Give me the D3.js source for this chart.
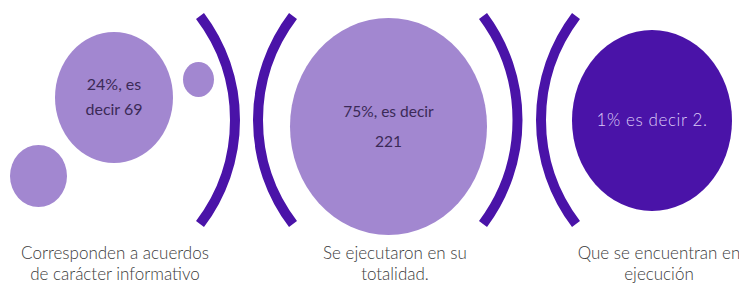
<!DOCTYPE html>
<html>
<head>
<meta charset="utf-8">
<script src="https://cdn.jsdelivr.net/npm/d3@7"></script>
<style>
  html, body { margin: 0; padding: 0; background: #ffffff; }
  svg { display: block; }
</style>
</head>
<body>
<div id="chart"></div>
<script>
// ---- data ----
const categories = ["informativo", "totalidad", "ejecucion"];
const labelLines = [
  ["Corresponden a acuerdos", "de carácter informativo"],
  ["Se ejecutaron en su", "totalidad."],
  ["Que se encuentran en", "ejecución"]
];
const percents = [24, 75, 1];
const counts = [69, 221, 2];
const valueLines = [
  [`${percents[0]}%, es`, `decir ${counts[0]}`],
  [`${percents[1]}%, es decir`, `${counts[1]}`],
  [`${percents[2]}% es decir ${counts[2]}.`]
];

// ---- layout ----
const W = 739, H = 293;
const light = "#a287d0", dark = "#4a13a8";
const svg = d3.select("#chart").append("svg").attr("width", W).attr("height", H);

const cx = d3.scaleOrdinal().domain(categories).range([114, 388.5, 652]);
const cy = d3.scaleOrdinal().domain(categories).range([97.5, 126.5, 120.5]);
const rx = d3.scaleOrdinal().domain(categories).range([59, 98.5, 80]);
const ry = d3.scaleOrdinal().domain(categories).range([65.5, 108.5, 90.5]);
const fill = d3.scaleOrdinal().domain(categories).range([light, light, dark]);
const txtColor = d3.scaleOrdinal().domain(categories).range(["#3b2a57", "#3b2a57", "#dccbf7"]);
const labelX = d3.scaleOrdinal().domain(categories).range([115, 395, 659]);

// decorative bubbles in first panel
const bubbles = [
  {x: 38.5, y: 176, rx: 28.5, ry: 31},
  {x: 198.5, y: 79.5, rx: 15.5, ry: 17.5}
];
svg.selectAll("ellipse.deco").data(bubbles).join("ellipse")
  .attr("class", "deco")
  .attr("cx", d => d.x).attr("cy", d => d.y)
  .attr("rx", d => d.rx).attr("ry", d => d.ry)
  .attr("fill", light);

// main circles
svg.selectAll("ellipse.main").data(categories).join("ellipse")
  .attr("class", "main")
  .attr("cx", d => cx(d)).attr("cy", d => cy(d))
  .attr("rx", d => rx(d)).attr("ry", d => ry(d))
  .attr("fill", d => fill(d));

// bracket arcs
const arcTop = 16, arcBot = 224;
const brackets = [
  {end: 200, mid: 235},
  {end: 293, mid: 258},
  {end: 483, mid: 517.5},
  {end: 576, mid: 541}
];
svg.selectAll("path.bracket").data(brackets).join("path")
  .attr("class", "bracket")
  .attr("d", d => {
    const half = (arcBot - arcTop) / 2;
    const s = Math.abs(d.mid - d.end);
    const R = (half * half + s * s) / (2 * s);
    const sweep = d.mid > d.end ? 1 : 0;
    return `M${d.end},${arcTop} A${R},${R} 0 0 ${sweep} ${d.end},${arcBot}`;
  })
  .attr("fill", "none")
  .attr("stroke", dark)
  .attr("stroke-width", 10);

// value texts inside circles
const valFont = "Lato, 'Open Sans', sans-serif";
const valSizes = [16, 15.5, 17];
const valSpacing = [0, 0, 0.6];
const valWeight = [400, 400, 300];
const lineGap = [25, 30, 0];
categories.forEach((c, i) => {
  const lines = valueLines[i];
  const n = lines.length;
  const g = lineGap[i];
  const baseY = cy(c) + 5 - (n - 1) * g / 2;
  svg.append("text")
    .attr("text-anchor", "middle")
    .attr("font-family", valFont)
    .attr("font-weight", valWeight[i])
    .attr("font-size", valSizes[i])
    .attr("letter-spacing", valSpacing[i])
    .attr("fill", txtColor(c))
    .selectAll("tspan").data(lines).join("tspan")
    .attr("x", cx(c))
    .attr("y", (d, j) => baseY + j * g)
    .text(d => d);
});

// category labels
categories.forEach((c, i) => {
  svg.append("text")
    .attr("text-anchor", "middle")
    .attr("font-family", valFont)
    .attr("font-weight", 300)
    .attr("font-size", 17)
    .attr("fill", "#3a3a3a")
    .selectAll("tspan").data(labelLines[i]).join("tspan")
    .attr("x", labelX(c))
    .attr("y", (d, j) => 259 + j * 21)
    .text(d => d);
});
</script>
</body>
</html>
